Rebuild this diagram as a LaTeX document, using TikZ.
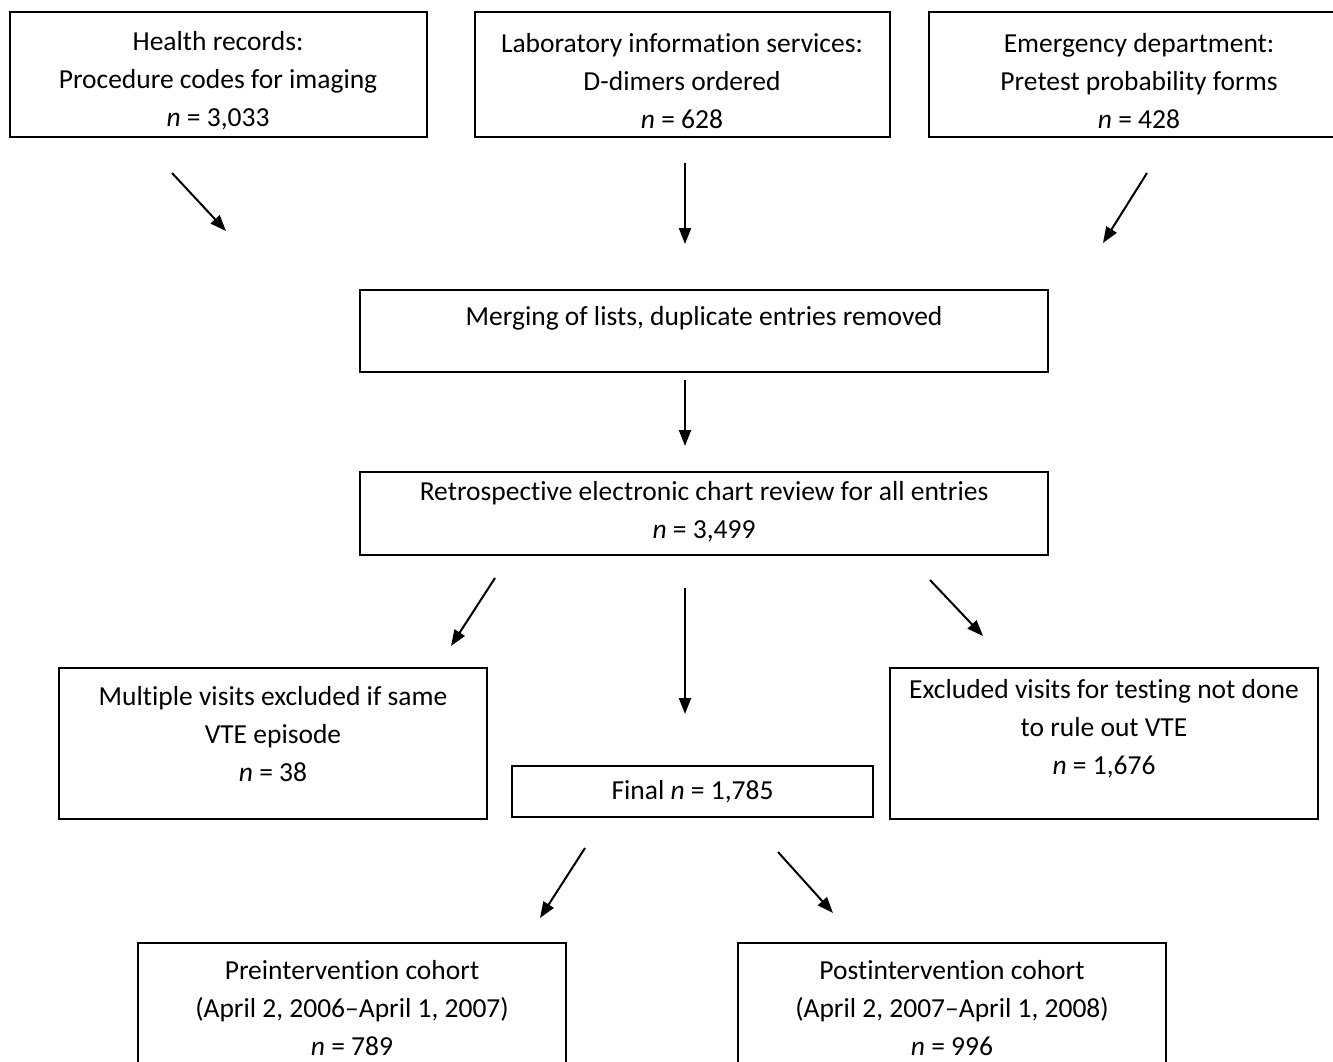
\documentclass[tikz,border=0pt]{standalone}
\usepackage{fontspec}
\setmainfont{Carlito}[Ligatures={NoCommon}]
\usetikzlibrary{arrows.meta}
\begin{document}
\begin{tikzpicture}[x=1pt,y=-1pt,
  box/.style={draw, line width=1.6pt, rectangle, inner sep=0pt},
  txt/.style={align=center, inner sep=0pt, font=\fontsize{27.5}{38}\selectfont},
  arr/.style={line width=2pt, -{Triangle[length=16pt,width=12pt]}}]
\useasboundingbox (0,0) rectangle (1333,1061);
\clip (0,0) rectangle (1333,1061);
% boxes
\node[box, minimum width=417pt, minimum height=125pt] (b1) at (218.5,74.5) {};
\node[box, minimum width=415pt, minimum height=125pt] (b2) at (682.5,74.5) {};
\node[box, minimum width=416pt, minimum height=125pt] (b3) at (1137,74.5) {};
\node[box, minimum width=688pt, minimum height=82pt] (bm) at (704,331) {};
\node[box, minimum width=688pt, minimum height=83pt] (br) at (704,513.5) {};
\node[box, minimum width=428pt, minimum height=151pt] (bmul) at (273,743.5) {};
\node[box, minimum width=361pt, minimum height=51pt] (bfin) at (692.5,791.5) {};
\node[box, minimum width=428pt, minimum height=151pt] (bexc) at (1104,743.5) {};
\node[box, minimum width=428pt, minimum height=151pt] (bpre) at (352,1018.5) {};
\node[box, minimum width=428pt, minimum height=151pt] (bpost) at (952,1018.5) {};
% texts
\node[txt] (t1) at (218,81) {Health records:\\Procedure codes for imaging\\\textit{n} = 3,033};
\node[txt] (t2) at (682,81) {Laboratory information services:\\D-dimers ordered\\\textit{n} = 628};
\node[txt] (t3) at (1139,81) {Emergency department:\\Pretest probability forms\\\textit{n} = 428};
\node[txt] (tm) at (704,318) {Merging of lists, duplicate entries removed};
\node[txt] (tr) at (704,512) {Retrospective electronic chart review for all entries\\\textit{n} = 3,499};
\node[txt] (tmul) at (273,734) {Multiple visits excluded if same\\VTE episode\\\textit{n} = 38};
\node[txt] (tfin) at (692.5,792) {Final \textit{n} = 1,785};
\node[txt] (texc) at (1104,729) {Excluded visits for testing not done\\to rule out VTE\\\textit{n} = 1,676};
\node[txt] (tpre) at (352,1008) {Preintervention cohort\\(April 2, 2006--April 1, 2007)\\\textit{n} = 789};
\node[txt] (tpost) at (952,1008) {Postintervention cohort\\(April 2, 2007--April 1, 2008)\\\textit{n} = 996};
% arrow end points
\coordinate (a1s) at (172,173); \coordinate (a1e) at (226,231);
\coordinate (a2s) at (685,163); \coordinate (a2e) at (685,244);
\coordinate (a3s) at (1147,173); \coordinate (a3e) at (1103,243);
\coordinate (a4s) at (685,380); \coordinate (a4e) at (685,446);
\coordinate (a5s) at (495,578); \coordinate (a5e) at (451,646);
\coordinate (a6s) at (685,588); \coordinate (a6e) at (685,714);
\coordinate (a7s) at (930,580); \coordinate (a7e) at (983,636);
\coordinate (a8s) at (585,848); \coordinate (a8e) at (540,918);
\coordinate (a9s) at (778,852); \coordinate (a9e) at (833,913);
\draw[arr] (a1s) -- (a1e);
\draw[arr] (a2s) -- (a2e);
\draw[arr] (a3s) -- (a3e);
\draw[arr] (a4s) -- (a4e);
\draw[arr] (a5s) -- (a5e);
\draw[arr] (a6s) -- (a6e);
\draw[arr] (a7s) -- (a7e);
\draw[arr] (a8s) -- (a8e);
\draw[arr] (a9s) -- (a9e);
\end{tikzpicture}
\end{document}
